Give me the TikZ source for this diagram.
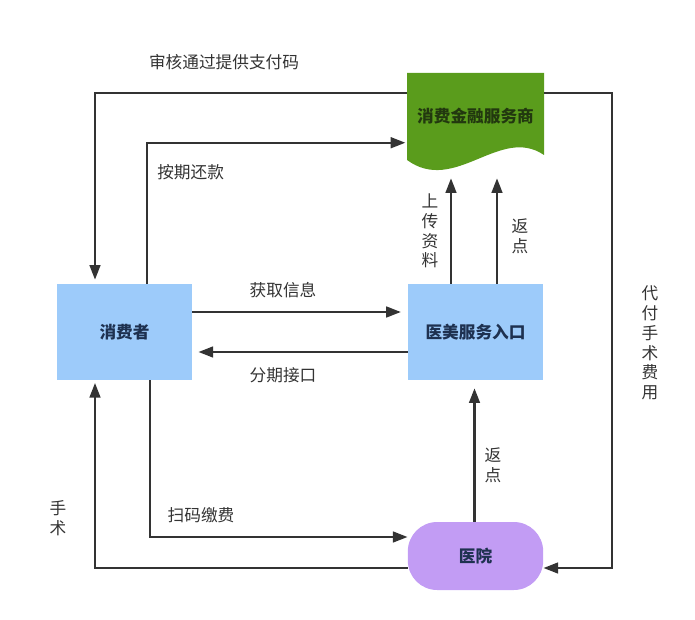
\documentclass[tikz,border=0pt]{standalone}
\usepackage{fontspec}
\setmainfont{Noto Sans CJK SC}
\usepackage{xcolor}
\usetikzlibrary{arrows.meta,positioning,calc}
\definecolor{cblue}{HTML}{9DCBFA}
\definecolor{fgreen}{HTML}{5A9C1C}
\definecolor{hpurple}{HTML}{C29CF4}
\definecolor{tnavy}{HTML}{1E3150}
\definecolor{tgreen}{HTML}{22380F}
\definecolor{lgray}{HTML}{333333}
\begin{document}
\begin{tikzpicture}[x=0.75pt, y=-0.75pt,
  font=\fontsize{12.5}{15}\selectfont,
  box/.style={inner sep=0pt, minimum width=101.5pt, minimum height=72pt, font=\fontsize{12.5}{15}\selectfont\bfseries},
  arr/.style={draw=lgray, line width=1.8pt, -{Triangle[length=11pt, width=8pt]}},
  lbl/.style={text=lgray, inner sep=0pt},
  vlbl/.style={text=lgray, inner sep=0pt, align=center, font=\fontsize{12.5}{14.8}\selectfont}]
\useasboundingbox (0,0) rectangle (695,620);
% entities
\node[box, fill=cblue, text=tnavy] (con) at (124.5,332) {消费者};
\node[box, fill=cblue, text=tnavy] (svc) at (475.5,332) {医美服务入口};
\node[box, fill=hpurple, text=tnavy, minimum height=51pt, rounded corners=22pt] (hos) at (475.5,556) {医院};
% finance: document shape with wavy bottom
\node[box, minimum width=102.75pt, minimum height=71.25pt] (fin) at (475.5,120.5) {};
\fill[fgreen] (407,73) -- (544,73) -- (544,155)
   .. controls (500,125) and (455,195) .. (407,160) -- cycle;
\node[box, text=tgreen] at (475.5,116) {消费金融服务商};
% top loop: approval and repayment
\draw[arr, shorten >=3pt] ($(fin.north west)+(0,20)$) -| ($(con.north)+(-29.5,0)$);
\node[lbl] at (224,62) {审核通过提供支付码};
\draw[arr, shorten >=1pt] ($(con.north)+(22.5,0)$) |- ($(fin.north west)+(0,70)$);
\node[lbl, anchor=west] at (157,172) {按期还款};
% consumer <-> service entry
\draw[arr, shorten >=5pt] ($(con.east)+(0,-20)$) -- ($(svc.west)+(0,-20)$);
\node[lbl] at (283,290) {获取信息};
\draw[arr, shorten >=4.5pt] ($(svc.west)+(0,20)$) -- ($(con.east)+(0,20)$);
\node[lbl] at (283,375) {分期接口};
% service entry -> finance
\draw[arr, shorten >=7.5pt] ($(svc.north)+(-24.5,0)$) -- ($(fin.south)+(-24.5,0)$);
\node[vlbl] at (430,231) {上\\传\\资\\料};
\draw[arr, shorten >=7.5pt] ($(svc.north)+(21.5,0)$) -- ($(fin.south)+(21.5,0)$);
\node[vlbl] at (520,236) {返\\点};
% hospital -> service entry
\draw[arr, shorten >=6pt] ($(hos.north)+(-1,0)$) -- ($(svc.south)+(-1,0)$);
\node[vlbl] at (493,465) {返\\点};
% consumer <-> hospital
\draw[arr] ($(con.south)+(25.5,0)$) |- ($(hos.west)+(0,-19)$);
\node[lbl] at (201,515) {扫码缴费};
\draw[arr, shorten >=2pt] ($(hos.west)+(0,12)$) -| ($(con.south)+(-29.5,0)$);
\node[vlbl] at (58,518) {手\\术};
% finance pays the hospital
\draw[arr] ($(fin.north east)+(0,20)$) -- ++(68,0) |- ($(hos.east)+(0,12)$);
\node[vlbl] at (650,343) {代\\付\\手\\术\\费\\用};
\end{tikzpicture}
\end{document}
